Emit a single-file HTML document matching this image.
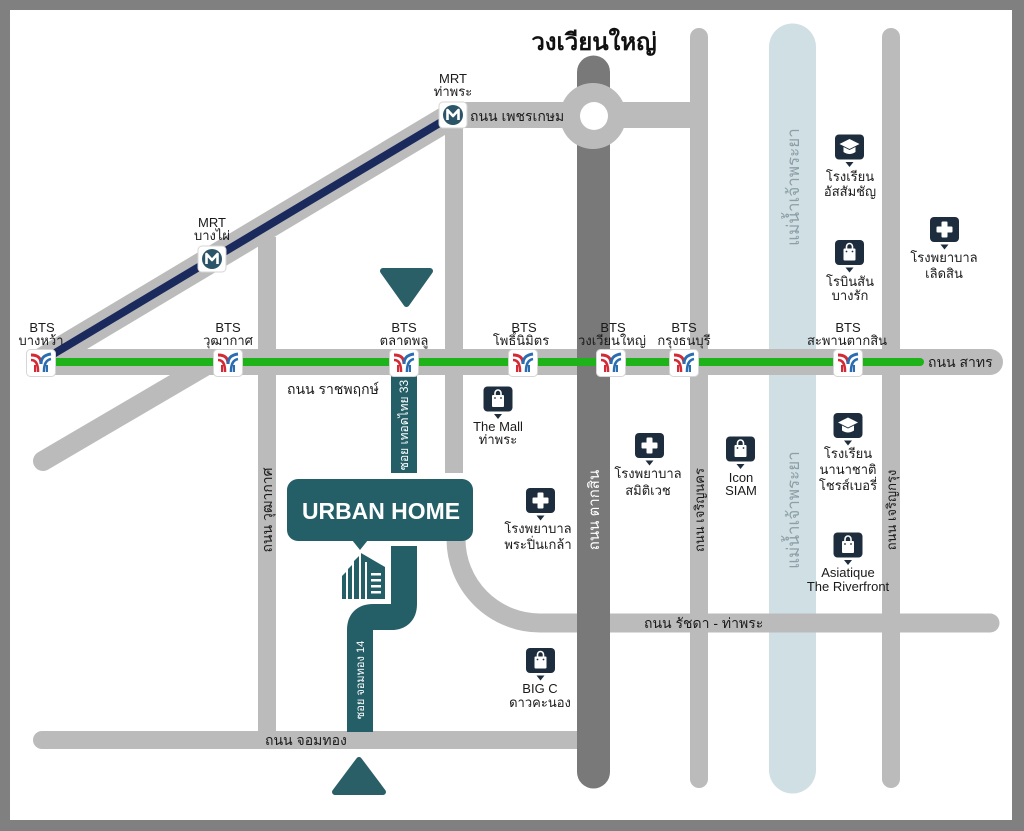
<!DOCTYPE html>
<html><head><meta charset="utf-8"><style>
html,body{margin:0;padding:0;background:#808080;}
svg{display:block;}
text{font-family:"Liberation Sans","DejaVu Sans","Noto Sans CJK SC",sans-serif;}
</style></head><body>
<svg width="1024" height="831" viewBox="0 0 1024 831" xmlns="http://www.w3.org/2000/svg">
<defs>
 <g id="bts">
  <rect x="-14.5" y="-13.5" width="29" height="27" rx="4" fill="#fff" stroke="#d6d6d6" stroke-width="1"/>
  <path d="M-10,-8 C-3,-8 0,-5 0,1" stroke="#d42a35" stroke-width="3" fill="none"/>
  <path d="M-10,-3 C-5,-3 -3,1 -3,9" stroke="#d42a35" stroke-width="2.6" fill="none"/>
  <path d="M10,-9 C3,-8 0,-5 0,1" stroke="#2a6db0" stroke-width="3" fill="none"/>
  <path d="M10,-4 C5,-3 3,1 3,9" stroke="#2a6db0" stroke-width="2.6" fill="none"/>
  <path d="M-6,9 V2" stroke="#d42a35" stroke-width="2" fill="none"/>
  <path d="M6,9 V2" stroke="#2a6db0" stroke-width="2" fill="none"/>
 </g>
 <g id="mrt">
  <rect x="-14" y="-13" width="28" height="26" rx="4" fill="#fff" stroke="#d6d6d6" stroke-width="1"/>
  <circle cx="0" cy="0" r="10" fill="#2b5468"/>
  <path d="M-5.5,5 V-5 L0,1 L5.5,-5 V5" stroke="#fff" stroke-width="2.6" fill="none" stroke-linejoin="round"/>
 </g>
 <g id="poi">
  <rect x="-14.5" y="-12.5" width="29" height="25" rx="4" fill="#1d2d3d"/>
  <polygon points="-4,15 4,15 0,20" fill="#1d2d3d"/>
 </g>
 <g id="cross">
  <use href="#poi"/>
  <rect x="-3" y="-8" width="6" height="16" rx="1" fill="#fff"/>
  <rect x="-8" y="-3" width="16" height="6" rx="1" fill="#fff"/>
 </g>
 <g id="bag">
  <use href="#poi"/>
  <rect x="-6" y="-4" width="12" height="12" rx="1" fill="#fff"/>
  <path d="M-3,-4 V-6 A3,3 0 0 1 3,-6 V-4" stroke="#fff" stroke-width="1.6" fill="none"/>
  <circle cx="-3" cy="-1" r="0.9" fill="#1d2d3d"/>
  <circle cx="3" cy="-1" r="0.9" fill="#1d2d3d"/>
 </g>
 <g id="cap">
  <use href="#poi"/>
  <polygon points="-10,-3 0,-8 10,-3 0,2" fill="#fff"/>
  <path d="M-6,0 V5 Q0,9 6,5 V0 L0,3 Z" fill="#fff"/>
 </g>
</defs>

<!-- frame -->
<rect x="0" y="0" width="1024" height="831" fill="#808080"/>
<rect x="10" y="10" width="1002" height="810" fill="#ffffff"/>

<!-- river -->
<line x1="792.5" y1="47" x2="792.5" y2="770" stroke="#cfdfe4" stroke-width="47" stroke-linecap="round"/>

<!-- light gray roads -->
<g stroke="#bbbbbb" fill="none">
 <line x1="40" y1="362" x2="990" y2="362" stroke-width="26" stroke-linecap="round"/>
 <line x1="40" y1="362" x2="453" y2="115" stroke-width="26" stroke-linecap="round"/>
 <line x1="453" y1="115" x2="690" y2="115" stroke-width="26"/>
 <line x1="454" y1="115" x2="454" y2="473" stroke-width="18"/>
 <path d="M456,530 V539 A84,84 0 0 0 540,623 H990" stroke-width="19" stroke-linecap="round"/>
 <line x1="42" y1="740" x2="593" y2="740" stroke-width="18" stroke-linecap="round"/>
 <line x1="267" y1="237" x2="267" y2="740" stroke-width="18"/>
 <line x1="43" y1="461" x2="212" y2="362" stroke-width="20" stroke-linecap="round"/>
 <line x1="699" y1="37" x2="699" y2="779" stroke-width="18" stroke-linecap="round"/>
 <line x1="891" y1="37" x2="891" y2="779" stroke-width="18" stroke-linecap="round"/>
</g>
<!-- re-draw horizontal roads over river -->
<line x1="760" y1="362" x2="830" y2="362" stroke="#bbbbbb" stroke-width="26"/>
<line x1="760" y1="623" x2="830" y2="623" stroke="#bbbbbb" stroke-width="19"/>

<!-- Taksin dark road -->
<line x1="593.5" y1="72" x2="593.5" y2="772" stroke="#797979" stroke-width="33" stroke-linecap="round"/>
<!-- roundabout -->
<circle cx="593" cy="116" r="33" fill="#bbbbbb"/>
<circle cx="594" cy="116" r="14" fill="#ffffff"/>

<!-- transit lines -->
<line x1="40" y1="362" x2="453" y2="115" stroke="#1b2a5c" stroke-width="8"/>
<line x1="40" y1="362" x2="920" y2="362" stroke="#1fb31a" stroke-width="8" stroke-linecap="round"/>

<!-- teal soi roads -->
<rect x="391" y="376" width="26" height="97" fill="#245f68"/>
<path d="M404,546 V604 Q404,617 391,617 H373 Q360,617 360,630 V732" stroke="#245f68" stroke-width="26" fill="none" stroke-linejoin="round"/>

<!-- URBAN HOME box -->
<rect x="287" y="479" width="186" height="62" rx="11" fill="#245f68"/>
<polygon points="352,540 368,540 360,550" fill="#245f68"/>
<text x="381" y="519" font-size="23" font-weight="bold" fill="#ffffff" text-anchor="middle" textLength="158" lengthAdjust="spacingAndGlyphs">URBAN HOME</text>

<!-- building icon -->
<g fill="#245f68">
 <polygon points="342,576 346,572 346,599 342,599"/>
 <polygon points="348,569 352,565 352,599 348,599"/>
 <polygon points="354,561 359,556 359,599 354,599"/>
 <polygon points="361,553 385,567 385,599 361,599"/>
</g>
<g fill="#ffffff">
 <rect x="365" y="562" width="2" height="37"/>
 <rect x="371" y="573" width="10" height="2.5"/>
 <rect x="371" y="579" width="10" height="2.5"/>
 <rect x="371" y="585" width="10" height="2.5"/>
 <rect x="371" y="591" width="10" height="2.5"/>
</g>

<!-- direction triangles -->
<polygon points="383,271 430,271 406.5,304" fill="#2a5f68" stroke="#2a5f68" stroke-width="6" stroke-linejoin="round"/>
<polygon points="335,792 383,792 359,760" fill="#2a5f68" stroke="#2a5f68" stroke-width="6" stroke-linejoin="round"/>

<!-- BTS stations -->
<use href="#bts" transform="translate(41,363)"/>
<use href="#bts" transform="translate(228,363)"/>
<use href="#bts" transform="translate(404,363)"/>
<use href="#bts" transform="translate(523,363)"/>
<use href="#bts" transform="translate(611,363)"/>
<use href="#bts" transform="translate(684,363)"/>
<use href="#bts" transform="translate(848,363)"/>

<!-- MRT stations -->
<use href="#mrt" transform="translate(453,115)"/>
<use href="#mrt" transform="translate(212,259)"/>

<!-- POI icons -->
<use href="#bag" transform="translate(498,399)"/>
<use href="#cap" transform="translate(849.5,147)"/>
<use href="#bag" transform="translate(849.5,252.5)"/>
<use href="#cross" transform="translate(944.5,229.5)"/>
<use href="#cross" transform="translate(649.5,445.5)"/>
<use href="#cross" transform="translate(540.5,500.5)"/>
<use href="#bag" transform="translate(740.5,449)"/>
<use href="#cap" transform="translate(848,425.5)"/>
<use href="#bag" transform="translate(848,545)"/>
<use href="#bag" transform="translate(540.5,660.5)"/>

<!-- title -->
<text x="594" y="50" font-size="24" font-weight="bold" fill="#111" text-anchor="middle">วงเวียนใหญ่</text>

<!-- station labels -->
<g font-size="13" fill="#1a1a1a" text-anchor="middle">
 <text x="42" y="332">BTS</text><text x="41" y="345">บางหว้า</text>
 <text x="228" y="332">BTS</text><text x="228" y="345">วุฒากาศ</text>
 <text x="404" y="332">BTS</text><text x="404" y="345">ตลาดพลู</text>
 <text x="524" y="332">BTS</text><text x="521" y="345">โพธิ์นิมิตร</text>
 <text x="613" y="332">BTS</text><text x="612" y="345">วงเวียนใหญ่</text>
 <text x="684" y="332">BTS</text><text x="684" y="345">กรุงธนบุรี</text>
 <text x="848" y="332">BTS</text><text x="847" y="345">สะพานตากสิน</text>
 <text x="453" y="83">MRT</text><text x="453" y="96">ท่าพระ</text>
 <text x="212" y="227">MRT</text><text x="212" y="240">บางไผ่</text>
</g>

<!-- POI labels -->
<g font-size="13" fill="#1a1a1a" text-anchor="middle">
 <text x="498" y="431">The Mall</text><text x="498" y="444">ท่าพระ</text>
 <text x="850" y="181">โรงเรียน</text><text x="850" y="196">อัสสัมชัญ</text>
 <text x="850" y="286">โรบินสัน</text><text x="850" y="300">บางรัก</text>
 <text x="944" y="262">โรงพยาบาล</text><text x="944" y="278">เลิดสิน</text>
 <text x="648" y="478">โรงพยาบาล</text><text x="648" y="495">สมิติเวช</text>
 <text x="538" y="533">โรงพยาบาล</text><text x="538" y="549">พระปิ่นเกล้า</text>
 <text x="741" y="482">Icon</text><text x="741" y="495">SIAM</text>
 <text x="848" y="458">โรงเรียน</text><text x="848" y="474">นานาชาติ</text><text x="848" y="490">โชรส์เบอรี่</text>
 <text x="848" y="577">Asiatique</text><text x="848" y="591">The Riverfront</text>
 <text x="540" y="693">BIG C</text><text x="540" y="707">ดาวคะนอง</text>
</g>

<!-- road labels -->
<g font-size="14" fill="#1a1a1a">
 <text x="470" y="121">ถนน เพชรเกษม</text>
 <text x="287" y="394">ถนน ราชพฤกษ์</text>
 <text x="928" y="367">ถนน สาทร</text>
 <text x="644" y="628">ถนน รัชดา - ท่าพระ</text>
 <text x="265" y="745">ถนน จอมทอง</text>
</g>
<g font-size="14" text-anchor="middle">
 <text transform="translate(599,510) rotate(-90)" fill="#ffffff" font-size="15">ถนน ตากสิน</text>
 <text transform="translate(704,510) rotate(-90)" fill="#1a1a1a" font-size="13">ถนน เจริญนคร</text>
 <text transform="translate(896,510) rotate(-90)" fill="#1a1a1a" font-size="13">ถนน เจริญกรุง</text>
 <text transform="translate(272,510) rotate(-90)" fill="#1a1a1a">ถนน วุฒากาศ</text>
 <text transform="translate(408,425) rotate(-90)" fill="#ffffff" font-size="12">ซอย เทอดไทย 33</text>
 <text transform="translate(364,680) rotate(-90)" fill="#ffffff" font-size="11">ซอย จอมทอง 14</text>
 <text transform="translate(799,187) rotate(-90)" fill="#8d9ea5" font-size="17">แม่น้ำเจ้าพระยา</text>
 <text transform="translate(799,510) rotate(-90)" fill="#8d9ea5" font-size="17">แม่น้ำเจ้าพระยา</text>
</g>
</svg>
</body></html>
